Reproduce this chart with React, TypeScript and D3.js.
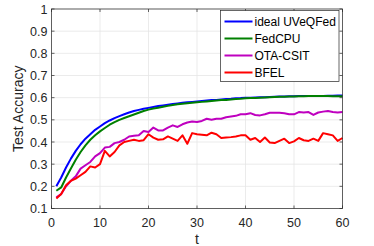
import React from 'react';
import * as d3 from 'd3';

const rounds = d3.range(1, 61);

const idealUVeQFed = [0.2, 0.24, 0.285, 0.325, 0.36, 0.39, 0.415, 0.435, 0.455, 0.47,
  0.485, 0.497, 0.508, 0.517, 0.525, 0.533, 0.54, 0.545, 0.55, 0.554,
  0.558, 0.562, 0.565, 0.568, 0.571, 0.574, 0.577, 0.579, 0.581, 0.583,
  0.585, 0.587, 0.589, 0.59, 0.592, 0.594, 0.595, 0.597, 0.598, 0.6,
  0.6, 0.601, 0.602, 0.602, 0.603, 0.604, 0.605, 0.605, 0.606, 0.606,
  0.607, 0.607, 0.607, 0.608, 0.608, 0.608, 0.609, 0.609, 0.61, 0.61];

const fedCPU = [0.18, 0.195, 0.24, 0.28, 0.32, 0.355, 0.385, 0.41, 0.43, 0.448,
  0.463, 0.478, 0.49, 0.5, 0.508, 0.516, 0.524, 0.532, 0.54, 0.546,
  0.551, 0.555, 0.559, 0.563, 0.567, 0.57, 0.573, 0.575, 0.577, 0.579,
  0.581, 0.583, 0.585, 0.587, 0.589, 0.59, 0.592, 0.594, 0.595, 0.597,
  0.598, 0.599, 0.6, 0.601, 0.602, 0.603, 0.604, 0.604, 0.605, 0.605,
  0.606, 0.606, 0.607, 0.607, 0.607, 0.607, 0.607, 0.606, 0.606, 0.606];

const otaCSIT = [0.15, 0.165, 0.2, 0.225, 0.245, 0.28, 0.295, 0.31, 0.335, 0.35,
  0.375, 0.378, 0.395, 0.4, 0.41, 0.425, 0.428, 0.43, 0.45, 0.445,
  0.465, 0.452, 0.452, 0.465, 0.475, 0.468, 0.48, 0.488, 0.492, 0.49,
  0.495, 0.505, 0.5, 0.505, 0.505, 0.512, 0.515, 0.518, 0.525, 0.525,
  0.53, 0.522, 0.52, 0.525, 0.532, 0.532, 0.532, 0.53, 0.525, 0.525,
  0.535, 0.533, 0.535, 0.522, 0.533, 0.537, 0.54, 0.535, 0.533, 0.535];

const bfel = [0.145, 0.165, 0.205, 0.225, 0.235, 0.25, 0.265, 0.29, 0.285, 0.3,
  0.36, 0.335, 0.355, 0.385, 0.4, 0.405, 0.41, 0.405, 0.408, 0.435,
  0.42, 0.41, 0.412, 0.425, 0.415, 0.405, 0.43, 0.392, 0.44, 0.435,
  0.433, 0.43, 0.442, 0.435, 0.418, 0.42, 0.422, 0.425, 0.43, 0.43,
  0.41, 0.418, 0.4, 0.42, 0.398, 0.395, 0.405, 0.415, 0.395, 0.403,
  0.418, 0.408, 0.405, 0.415, 0.405, 0.44, 0.435, 0.43, 0.405, 0.418];

const seriesNames = ['ideal UVeQFed', 'FedCPU', 'OTA-CSIT', 'BFEL'];
const seriesColors = ['#0000ff', '#008000', '#bf00bf', '#ff0000'];
const seriesValues = [idealUVeQFed, fedCPU, otaCSIT, bfel];

const xTicks = [0, 10, 20, 30, 40, 50, 60];
const yTicks = [0.1, 0.2, 0.3, 0.4, 0.5, 0.6, 0.7, 0.8, 0.9, 1];

const W = 374;
const H = 246;
const left = 51.5;
const right = 342.5;
const top = 9;
const bottom = 208.5;
const font = 'Liberation Sans, Arial, Helvetica, sans-serif';
const axisColor = '#262626';

export default function App() {
  const x = d3.scaleLinear().domain([0, 60]).range([left, right]);
  const y = d3.scaleLinear().domain([0.1, 1]).range([bottom, top]);
  const line = d3.line<number>()
    .x((d, i) => x(rounds[i]))
    .y((d) => y(d));

  const legendX = 220.5;
  const legendY = 10.5;
  const legendRow = 17;

  return (
    <svg width={W} height={H} style={{ position: 'absolute', left: 0, top: 0, background: '#fff' }}>
      {/* grid */}
      {xTicks.map((t) => (
        <line key={'gx' + t} x1={x(t)} x2={x(t)} y1={top} y2={bottom} stroke="#e6e6e6" strokeWidth={0.8} />
      ))}
      {yTicks.map((t) => (
        <line key={'gy' + t} x1={left} x2={right} y1={y(t)} y2={y(t)} stroke="#e6e6e6" strokeWidth={0.8} />
      ))}

      {/* series */}
      {seriesValues.map((vals, k) => (
        <path key={seriesNames[k]} d={line(vals) || ''} fill="none" stroke={seriesColors[k]} strokeWidth={2} strokeLinejoin="round" />
      ))}

      {/* box */}
      <rect x={left} y={top} width={right - left} height={bottom - top} fill="none" stroke={axisColor} strokeWidth={0.7} />
      {xTicks.map((t) => (
        <g key={'tx' + t}>
          <line x1={x(t)} x2={x(t)} y1={bottom} y2={bottom - 3} stroke={axisColor} strokeWidth={0.7} />
          <line x1={x(t)} x2={x(t)} y1={top} y2={top + 3} stroke={axisColor} strokeWidth={0.7} />
          <text x={x(t)} y={bottom + 18} textAnchor="middle" fontFamily={font} fontSize={12.5} fill={axisColor}>{t}</text>
        </g>
      ))}
      {yTicks.map((t) => (
        <g key={'ty' + t}>
          <line x1={left} x2={left + 3} y1={y(t)} y2={y(t)} stroke={axisColor} strokeWidth={0.7} />
          <line x1={right} x2={right - 3} y1={y(t)} y2={y(t)} stroke={axisColor} strokeWidth={0.7} />
          <text x={left - 4} y={y(t) + 4.5} textAnchor="end" fontFamily={font} fontSize={12.5} fill={axisColor}>{d3.format('~g')(t)}</text>
        </g>
      ))}

      <text x={(left + right) / 2} y={243.5} textAnchor="middle" fontFamily={font} fontSize={14} fill={axisColor}>t</text>
      <text transform={`translate(23,${(top + bottom) / 2}) rotate(-90)`} textAnchor="middle" fontFamily={font} fontSize={14} fill={axisColor}>Test Accuracy</text>

      {/* legend */}
      <rect x={legendX} y={legendY} width={118.5} height={71} fill="#fff" stroke={axisColor} strokeWidth={0.7} />
      {seriesNames.map((name, k) => (
        <g key={'lg' + name}>
          <line x1={legendX + 4} x2={legendX + 32} y1={legendY + 11 + k * legendRow} y2={legendY + 11 + k * legendRow} stroke={seriesColors[k]} strokeWidth={2} />
          <text x={legendX + 34} y={legendY + 15.5 + k * legendRow} fontFamily={font} fontSize={12} fill="#000">{name}</text>
        </g>
      ))}
    </svg>
  );
}
